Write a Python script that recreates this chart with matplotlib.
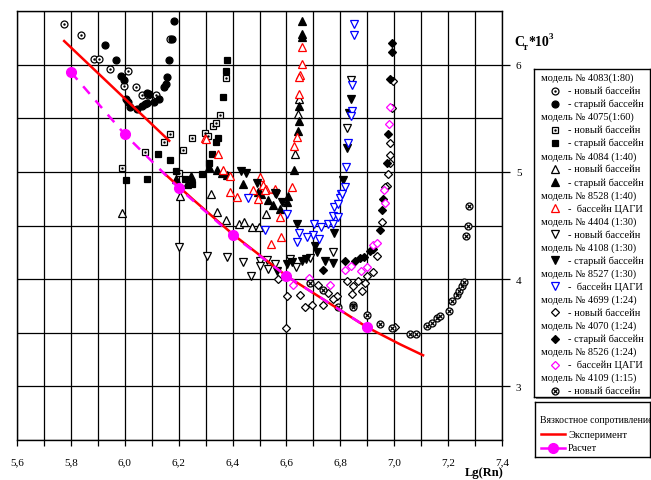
import numpy as np
import matplotlib.pyplot as plt
from matplotlib.ticker import MultipleLocator, FixedLocator, FuncFormatter

plt.rcParams['font.family'] = ['Liberation Serif', 'DejaVu Serif']

# ---- data ----
# model 4083 (1:80)
c_new_x = [5.776, 5.836, 5.886, 5.906, 5.945, 6.013, 5.997, 6.042, 6.065, 6.087, 6.116, 6.168]
c_new_y = [6.381, 6.272, 6.056, 6.056, 5.960, 5.937, 5.797, 5.787, 5.719, 5.719, 5.719, 6.241]
c_old_x = [5.927, 5.969, 5.986, 5.997, 6.005, 6.013, 6.019, 6.044, 6.063, 6.075, 6.081, 6.091,
           6.081, 6.109, 6.128, 6.147, 6.152, 6.158, 6.165, 6.176, 6.184]
c_old_y = [6.181, 6.047, 5.897, 5.859, 5.679, 5.656, 5.609, 5.585, 5.616, 5.634, 5.735, 5.728,
           5.641, 5.656, 5.679, 5.791, 5.822, 5.881, 6.047, 6.241, 6.403]
# model 4075 (1:60)
s_new_x = [6.168, 6.147, 6.076, 5.991, 6.217, 6.248, 6.297, 6.310, 6.326, 6.338, 6.354, 6.375, 6.202]
s_new_y = [5.353, 5.276, 5.182, 5.032, 5.203, 5.313, 5.366, 5.335, 5.431, 5.454, 5.531, 5.875, 4.991]
s_old_x = [6.378, 6.375, 6.364, 6.347, 6.338, 6.323, 6.314, 6.288, 6.124, 6.168, 6.190, 6.224,
           6.081, 6.005, 6.248]
s_old_y = [6.047, 5.937, 5.697, 5.313, 5.276, 5.163, 5.079, 4.978, 5.163, 5.110, 5.009, 4.929,
           4.929, 4.922, 4.891]
# model 4084 (1:40)
t_new_x = [5.990, 6.205, 6.320, 6.344, 6.375, 6.424, 6.444, 6.471, 6.499, 6.523, 6.648, 6.644, 6.632]
t_new_y = [4.613, 4.775, 4.798, 4.625, 4.554, 4.516, 4.531, 4.484, 4.484, 4.610, 5.681, 5.541, 5.166]
t_old_x = [6.190, 6.246, 6.313, 6.341, 6.360, 6.378, 6.232, 6.440, 6.496, 6.505, 6.533, 6.549,
           6.576, 6.603, 6.607, 6.657, 6.658, 6.659, 6.648, 6.646, 6.644, 6.629]
t_old_y = [4.938, 4.963, 5.047, 5.016, 4.985, 4.969, 4.891, 4.891, 4.813, 4.798, 4.735, 4.688,
           4.657, 4.719, 4.772, 6.406, 6.288, 6.260, 5.616, 5.478, 5.384, 5.016]
# model 8528 (1:40)
t_red_x = [6.297, 6.300, 6.347, 6.364, 6.391, 6.416, 6.475, 6.502, 6.512, 6.523, 6.558, 6.496,
           6.521, 6.576, 6.542, 6.579, 6.620, 6.657, 6.659, 6.650, 6.646, 6.648, 6.638, 6.628, 6.391]
t_red_y = [5.319, 5.303, 5.163, 5.022, 4.963, 4.766, 4.828, 4.953, 4.875, 4.838, 4.838, 4.751,
           4.828, 4.578, 4.329, 4.391, 4.859, 6.166, 6.009, 5.906, 5.885, 5.722, 5.328, 5.241, 4.813]
# model 4404 (1:30)
v_new_x = [6.306, 6.381, 6.440, 6.467, 6.502, 6.502, 6.533, 6.527, 6.558, 6.613, 6.688, 6.772,
           6.634, 6.840, 6.826, 6.200]
v_new_y = [4.220, 4.210, 4.163, 4.025, 4.172, 4.126, 4.094, 4.179, 4.141, 4.188, 4.198, 4.250,
           4.110, 5.859, 5.413, 4.300]
# model 4108 (1:30)
v_old_x = [6.840, 6.834, 6.826, 6.811, 6.430, 6.450, 6.490, 6.558, 6.561, 6.583, 6.566, 6.603,
           6.620, 6.638, 6.657, 6.673, 6.706, 6.712, 6.743, 6.774, 6.778]
v_old_y = [5.681, 5.547, 5.219, 4.922, 5.009, 4.985, 4.897, 4.803, 4.798, 4.719, 4.072, 4.141,
           4.157, 4.516, 4.172, 4.188, 4.310, 4.250, 4.166, 4.147, 4.428]
# model 8527 (1:30)
v_blue_x = [6.851, 6.851, 6.842, 6.842, 6.838, 6.830, 6.821, 6.818, 6.802, 6.799, 6.459, 6.521,
            6.603, 6.648, 6.640, 6.704, 6.727, 6.756, 6.772, 6.774, 6.793, 6.778, 6.790, 6.805,
            6.700, 6.678, 6.722]
v_blue_y = [6.375, 6.275, 5.813, 5.569, 5.522, 5.272, 5.047, 4.859, 4.798, 4.760, 4.760, 4.460,
            4.610, 4.432, 4.344, 4.516, 4.484, 4.516, 4.516, 4.585, 4.578, 4.672, 4.704, 4.798,
            4.407, 4.391, 4.376]
# model 4699 (1:24)
d_new_x = [6.997, 6.991, 6.985, 6.985, 6.985, 6.978, 6.972, 6.966, 6.954, 6.935, 6.923, 6.898,
           6.892, 6.880, 6.867, 6.848, 6.842, 6.824, 6.787, 6.774, 6.756, 6.735, 6.718, 6.694,
           6.669, 6.650, 6.603, 6.598, 6.570, 7.003]
d_new_y = [5.844, 5.600, 5.272, 5.157, 5.084, 4.979, 4.866, 4.859, 4.531, 4.220, 4.063, 4.032,
           3.960, 3.891, 3.985, 3.938, 3.860, 3.985, 3.844, 3.813, 3.875, 3.760, 3.945, 3.760,
           3.741, 3.854, 3.844, 3.548, 4.001, 3.550]
# model 4070 (1:24)
d_old_x = [6.993, 6.993, 6.985, 6.978, 6.972, 6.960, 6.954, 6.947, 6.910, 6.923, 6.886, 6.873,
           6.855, 6.818, 6.737]
d_old_y = [6.203, 6.119, 5.869, 5.353, 5.079, 4.751, 4.641, 4.454, 4.266, 4.282, 4.210, 4.198,
           4.172, 4.172, 4.085]
# model 8526 (1:24)
d_mag_x = [6.985, 6.981, 6.962, 6.966, 6.920, 6.935, 6.900, 6.876, 6.839, 6.818, 6.762, 6.685, 6.626]
d_mag_y = [5.609, 5.444, 4.828, 4.709, 4.322, 4.335, 4.116, 4.079, 4.126, 4.085, 3.947, 4.010, 3.945]
# model 4109 (1:15)
x_new_x = [6.689, 6.737, 6.793, 6.848, 6.846, 6.898, 6.947, 6.991, 7.059, 7.081, 7.122, 7.140,
           7.159, 7.170, 7.204, 7.215, 7.233, 7.241, 7.252, 7.259, 7.267, 7.274, 7.278]
x_new_y = [3.960, 3.898, 3.741, 3.760, 3.741, 3.666, 3.579, 3.548, 3.488, 3.488, 3.563, 3.590,
           3.638, 3.657, 3.700, 3.800, 3.854, 3.890, 3.940, 3.976, 4.400, 4.500, 4.680]

# viscous resistance: experiment (red) and calculation (magenta)
exp1_x = [5.775, 6.165]
exp1_y = [6.22, 5.29]
exp2_x = [6.147, 6.254, 6.40, 6.60, 6.90, 7.022, 7.107]
exp2_y = [4.985, 4.741, 4.42, 4.03, 3.55, 3.392, 3.29]
calc_x = [5.8, 6.0, 6.2, 6.4, 6.6, 6.9]
calc_y = [5.93, 5.35, 4.85, 4.41, 4.03, 3.55]

MAG = '#ff00ff'
BLUE = '#0000ff'
RED = '#ff0000'

styles = {
    'c_new': dict(marker='o', mfc='white', mec='black', ms=5),
    'c_old': dict(marker='o', mfc='black', mec='black', ms=5),
    's_new': dict(marker='s', mfc='white', mec='black', ms=4.5),
    's_old': dict(marker='s', mfc='black', mec='black', ms=4.5),
    't_new': dict(marker='^', mfc='white', mec='black', ms=5.5),
    't_old': dict(marker='^', mfc='black', mec='black', ms=5.5),
    't_red': dict(marker='^', mfc='white', mec=RED, ms=5.5),
    'v_new': dict(marker='v', mfc='white', mec='black', ms=5.5),
    'v_old': dict(marker='v', mfc='black', mec='black', ms=5.5),
    'v_blue': dict(marker='v', mfc='white', mec=BLUE, ms=5.5),
    'd_new': dict(marker='D', mfc='white', mec='black', ms=4.5),
    'd_old': dict(marker='D', mfc='black', mec='black', ms=4.5),
    'd_mag': dict(marker='D', mfc='white', mec=MAG, ms=4.5),
    'x_new': dict(marker='o', mfc='white', mec='black', ms=5),
}


def draw_marker(a, x, y, key, z=3):
    a.plot(x, y, ls='none', mew=0.9, zorder=z, **styles[key])
    if key in ('c_new', 's_new'):
        a.plot(x, y, ls='none', marker='.', ms=1.5, color='black', zorder=z + 0.1)
    if key == 'x_new':
        a.plot(x, y, ls='none', marker='x', ms=3.2, mew=0.9, color='black', zorder=z + 0.1)


W, H = 651, 481
fig = plt.figure(figsize=(W / 100, H / 100), dpi=100)


def fx(px):
    return px / W


def fy(py):
    return 1 - py / H


ax = fig.add_axes([fx(17), fy(441), (502 - 17) / W, (441 - 12) / H])
ax.set_xlim(5.6, 7.4)
ax.set_ylim(2.5, 6.5)

series = [
    (c_new_x, c_new_y, 'c_new'), (c_old_x, c_old_y, 'c_old'),
    (s_new_x, s_new_y, 's_new'), (s_old_x, s_old_y, 's_old'),
    (t_new_x, t_new_y, 't_new'), (t_old_x, t_old_y, 't_old'),
    (t_red_x, t_red_y, 't_red'),
    (v_new_x, v_new_y, 'v_new'), (v_old_x, v_old_y, 'v_old'),
    (v_blue_x, v_blue_y, 'v_blue'),
    (d_new_x, d_new_y, 'd_new'), (d_old_x, d_old_y, 'd_old'),
    (d_mag_x, d_mag_y, 'd_mag'),
    (x_new_x, x_new_y, 'x_new'),
]
for sx, sy, key in series:
    draw_marker(ax, sx, sy, key)

ax.plot(exp1_x, exp1_y, color=RED, lw=1.8, zorder=6)
ax.plot(exp2_x, exp2_y, color=RED, lw=1.8, zorder=6)
ax.plot(calc_x, calc_y, color=MAG, lw=1.8, ls=(0, (4, 3.5)), marker='o', ms=7,
        mfc=MAG, mec=MAG, zorder=7)

# axes / grid
ax.xaxis.set_major_locator(MultipleLocator(0.2))
ax.xaxis.set_minor_locator(MultipleLocator(0.1))
ax.xaxis.set_major_formatter(FuncFormatter(lambda v, p: f"{v:.1f}".replace('.', ',')))
ax.yaxis.set_major_locator(FixedLocator([3, 4, 5, 6]))
ax.yaxis.set_minor_locator(FixedLocator([2.5, 3.5, 4.5, 5.5, 6.5]))
ax.yaxis.set_major_formatter(FuncFormatter(lambda v, p: f"{int(v)}"))
ax.yaxis.tick_right()
ax.tick_params(axis='x', which='both', direction='out', length=4.5, width=0.9,
               labelsize=8, pad=8)
ax.tick_params(axis='y', which='major', direction='out', length=6, width=0.9,
               labelsize=8, pad=4)
ax.tick_params(axis='y', which='minor', length=0)
ax.grid(True, which='both', color='black', lw=0.9)
ax.set_axisbelow(True)
for sp in ax.spines.values():
    sp.set_linewidth(1.0)

fig.text(fx(484), fy(473), 'Lg(Rn)', ha='center', va='center', fontsize=9, fontweight='bold')
fig.text(fx(514), fy(42), 'C', ha='left', va='center', fontsize=10, fontweight='bold')
fig.text(fx(523), fy(47), 'т', ha='left', va='center', fontsize=7, fontweight='bold')
fig.text(fx(528), fy(42), '*10', ha='left', va='center', fontsize=10, fontweight='bold')
fig.text(fx(548.5), fy(37), '3', ha='left', va='center', fontsize=6.5, fontweight='bold')

# ---- legend 1 (with a small grey shadow behind it) ----
shadow = fig.add_axes([fx(536), fy(400), (650 - 534) / W, (398 - 70) / H])
shadow.set_facecolor('#808080')
shadow.set_xticks([])
shadow.set_yticks([])
for sp in shadow.spines.values():
    sp.set_visible(False)

lg = fig.add_axes([fx(534), fy(398), (650 - 534) / W, (398 - 70) / H])
lg.set_xlim(534, 650)
lg.set_ylim(398, 70)
lg.set_xticks([])
lg.set_yticks([])
for sp in lg.spines.values():
    sp.set_linewidth(1.0)

NEW = '- новый бассейн'
OLD = '- старый бассейн'
CAGI = '-  бассейн ЦАГИ'
rows = [
    ('модель № 4083(1:80)', None), (NEW, 'c_new'), (OLD, 'c_old'),
    ('модель № 4075(1:60)', None), (NEW, 's_new'), (OLD, 's_old'),
    ('модель № 4084 (1:40)', None), (NEW, 't_new'), (OLD, 't_old'),
    ('модель № 8528 (1:40)', None), (CAGI, 't_red'),
    ('модель № 4404 (1:30)', None), (NEW, 'v_new'),
    ('модель № 4108 (1:30)', None), (OLD, 'v_old'),
    ('модель № 8527 (1:30)', None), (CAGI, 'v_blue'),
    ('модель № 4699 (1:24)', None), (NEW, 'd_new'),
    ('модель № 4070 (1:24)', None), (OLD, 'd_old'),
    ('модель № 8526 (1:24)', None), (CAGI, 'd_mag'),
    ('модель № 4109 (1:15)', None), (NEW, 'x_new'),
]
for i, (txt, key) in enumerate(rows):
    yy = 78.5 + i * 13.05
    if key is None:
        lg.text(541, yy, txt, ha='left', va='center', fontsize=7.5)
    else:
        draw_marker(lg, [555], [yy], key)
        lg.text(568, yy, txt, ha='left', va='center', fontsize=7.5)

# ---- legend 2 ----
lg2 = fig.add_axes([fx(535), fy(458), (650 - 535) / W, (458 - 403) / H])
lg2.set_xlim(535, 650)
lg2.set_ylim(458, 403)
lg2.set_xticks([])
lg2.set_yticks([])
for sp in lg2.spines.values():
    sp.set_linewidth(1.0)
lg2.text(540, 420, 'Вязкостное сопротивление', ha='left', va='center', fontsize=7)
lg2.plot([541, 565], [435, 435], color=RED, lw=1.8)
lg2.text(568, 435, 'Эксперимент', ha='left', va='center', fontsize=7.5)
lg2.plot([541, 565], [448.5, 448.5], color=MAG, lw=1.8)
lg2.plot([553], [448.5], marker='o', ms=7, color=MAG)
lg2.text(568, 448.5, 'Расчет', ha='left', va='center', fontsize=7.5)

fig.savefig('out.png', dpi=100)
